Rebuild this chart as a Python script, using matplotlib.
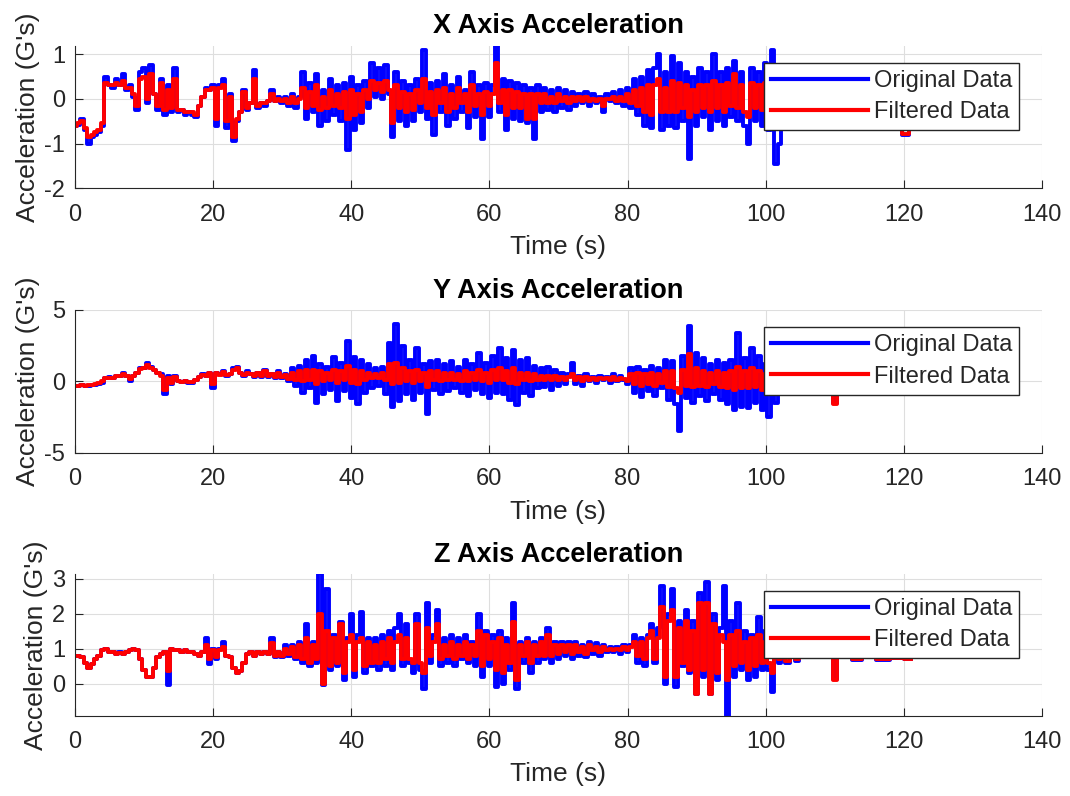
import numpy as np
import matplotlib
matplotlib.use("Agg")
import matplotlib.pyplot as plt

plt.rcParams['font.family'] = ['Liberation Sans', 'DejaVu Sans']
plt.rcParams['axes.unicode_minus'] = False

# sample grid of the dense part (0 .. 102 s, every 0.5 s)
t_main = np.arange(0, 102.5, 0.5)

# ---------------- X axis ----------------
x_orig = [
    -0.6, -0.58, -0.45, -0.7, -1.0, -0.85, -0.8, -0.75, -0.6, 0.5, 0.3, 0.25, 0.45, 0.3, 0.55, 0.2, 0.3, 0.05, -0.25, 0.6,
    0.7, -0.1, 0.75, 0.1, -0.25, 0.45, -0.35, 0.3, -0.3, 0.7, -0.3, -0.25, -0.35, -0.3, -0.35, -0.4, -0.15, 0.05, 0.25, 0.2,
    0.3, -0.6, 0.3, 0.45, -0.65, 0.1, -0.95, -0.5, -0.3, 0.2, -0.25, -0.1, 0.65, -0.2, -0.1, -0.15, -0.05, 0.2, -0.05, 0.05,
    -0.1, 0.05, -0.15, 0.1, -0.2, 0.05, 0.6, -0.45, 0.35, -0.3, 0.55, -0.6, 0.2, -0.5, 0.45, -0.35, 0.3, -0.5, 0.35, -1.15,
    0.5, -0.7, 0.3, -0.55, 0.4, -0.2, 0.8, 0.05, 0.7, 0.0, 0.75, 0.1, -0.85, 0.6, -0.5, 0.4, -0.6, 0.3, -0.5, 0.45,
    -0.3, 1.1, -0.45, 0.35, -0.8, 0.4, -0.3, 0.55, -0.6, 0.3, -0.45, 0.5, -0.3, 0.2, -0.65, 0.6, -0.4, 0.3, -0.9, 0.35,
    -0.4, 0.3, 1.2, -0.3, 0.45, -0.7, 0.4, -0.45, 0.35, -0.5, 0.3, -0.55, 0.25, -0.9, 0.3, -0.3, 0.25, -0.25, 0.2, -0.3,
    0.25, -0.2, 0.2, -0.25, 0.15, -0.15, 0.1, -0.1, 0.15, -0.15, 0.1, -0.1, 0.05, -0.3, 0.1, -0.05, 0.15, -0.1, 0.2, -0.15,
    0.25, -0.2, 0.45, -0.35, 0.5, -0.6, 0.65, -0.65, 0.7, 1.0, -0.7, 0.6, -0.6, 0.95, -0.65, 0.8, -0.5, 0.6, -1.35, 0.5,
    -0.6, 0.7, -0.4, 0.6, -0.7, 1.0, -0.5, 0.6, -0.6, 0.7, -0.4, 0.85, -0.5, 0.6, -0.6, -1.0, 0.7, -0.5, 0.6, -0.6,
    0.8, -0.7, 1.1, -1.45, -1.0,
]
x_filt = [
    -0.6, -0.55, -0.5, -0.65, -0.85, -0.8, -0.75, -0.7, -0.55, 0.35, 0.3, 0.3, 0.35, 0.3, 0.4, 0.25, 0.25, 0.1, -0.15, 0.45,
    0.5, 0.0, 0.55, 0.1, -0.15, 0.35, -0.25, 0.2, -0.2, 0.45, -0.25, -0.25, -0.3, -0.3, -0.3, -0.35, -0.15, 0.05, 0.2, 0.2,
    0.25, -0.45, 0.25, 0.3, -0.5, 0.05, -0.85, -0.45, -0.3, 0.15, -0.2, -0.1, 0.45, -0.15, -0.1, -0.1, -0.05, 0.1, -0.05, 0.0,
    -0.05, 0.0, -0.1, 0.05, -0.1, 0.0, 0.25, -0.2, 0.15, -0.15, 0.3, -0.25, 0.05, -0.2, 0.2, -0.15, 0.1, -0.2, 0.15, -0.45,
    0.2, -0.35, 0.1, -0.3, 0.2, 0.0, 0.4, 0.2, 0.35, 0.15, 0.4, 0.2, -0.55, 0.3, -0.2, 0.15, -0.3, 0.1, -0.25, 0.2,
    -0.1, 0.45, -0.2, 0.15, -0.35, 0.2, -0.1, 0.25, -0.3, 0.1, -0.2, 0.25, -0.1, 0.1, -0.3, 0.3, -0.15, 0.1, -0.35, 0.15,
    -0.15, 0.1, 0.8, -0.1, 0.2, -0.35, 0.2, -0.2, 0.15, -0.2, 0.1, -0.45, 0.1, -0.45, 0.1, -0.1, 0.1, -0.1, 0.05, -0.1,
    0.1, -0.05, 0.05, -0.1, 0.05, -0.05, 0.05, -0.05, 0.05, -0.05, 0.0, -0.05, 0.0, -0.15, 0.0, 0.0, 0.05, -0.05, 0.05, -0.05,
    0.1, -0.1, 0.2, -0.15, 0.25, -0.3, 0.3, -0.35, 0.3, 0.45, -0.3, 0.25, -0.3, 0.4, -0.3, 0.35, -0.2, 0.3, -0.4, 0.2,
    -0.3, 0.3, -0.2, 0.3, -0.3, 0.4, -0.2, 0.3, -0.3, 0.35, -0.15, 0.55, -0.2, 0.3, -0.3, -0.4, 0.35, -0.2, 0.3, -0.25,
    0.35, -0.3, 0.4, -0.5, -0.4,
]
x_tail_t = [102.5, 104, 107, 110, 113, 116, 119, 120.5, 121, 121.5]
x_tail_orig = [0.1, -0.1, 0.05, -0.05, 0.0, 0.05, -0.1, -0.8, -0.1, 0.0]
x_tail_filt = [0.0, -0.05, 0.0, 0.0, 0.0, 0.0, -0.05, -0.78, -0.05, 0.0]

# ---------------- Y axis ----------------
y_orig = [
    -0.3, -0.3, -0.25, -0.3, -0.3, -0.25, -0.25, -0.2, -0.1, 0.2, 0.3, 0.25, 0.4, 0.35, 0.6, 0.35, 0.05, 0.4, 0.6, 0.9,
    0.9, 1.25, 1.0, 0.8, 0.6, 0.5, -0.9, 0.4, -0.2, 0.4, 0.0, -0.05, 0.0, -0.1, -0.1, 0.1, 0.3, 0.5, 0.4, 0.6,
    -0.45, 0.6, 0.5, 0.7, 0.4, 0.5, 0.9, 1.0, 0.6, 0.4, 0.7, 0.5, 0.3, 0.6, 0.3, 0.8, 0.3, 0.5, 0.2, 0.7,
    0.2, 0.5, 0.0, 0.9, -0.3, 1.1, -0.8, 1.5, -0.5, 1.8, -1.5, 1.2, -0.9, 1.0, -0.6, 1.7, -1.4, 1.3, -0.7, 2.8,
    -1.2, 1.7, -1.6, 1.5, -0.8, 1.2, -0.5, 0.9, -0.3, 1.0, -0.9, 2.7, -1.8, 4.0, -1.4, 2.5, -0.9, 1.5, -1.3, 2.3,
    -0.8, 1.2, -2.3, 1.4, -0.6, 1.5, -0.9, 1.2, -0.7, 1.4, -0.5, 1.0, -0.8, 1.5, -1.0, 1.2, -0.6, 2.0, -0.9, 1.3,
    -1.2, 1.8, -0.8, 2.3, -0.9, 1.6, -1.3, 2.2, -1.7, 1.5, -0.8, 1.6, -1.0, 1.1, -0.5, 0.9, -0.4, 1.0, -0.6, 0.8,
    -0.3, 0.6, -0.2, 0.5, 1.3, -0.2, 0.4, -0.3, 0.5, 0.0, 0.3, -0.1, 0.4, 0.1, 0.3, -0.1, 0.5, 0.0, 0.4, 0.1,
    -0.2, 0.9, -0.8, 1.0, -1.1, 0.8, -0.7, 1.1, -1.0, 0.9, -0.5, 1.5, -1.3, 1.4, -1.6, -3.5, 1.8, -1.2, 3.9, -1.5,
    2.0, -1.0, 1.6, -1.4, 1.2, -0.9, 1.5, -1.3, 1.3, -1.6, 1.5, -2.0, 3.4, -1.8, 1.6, -1.9, 2.3, -1.5, 1.8, -2.0,
    1.2, -2.5, 0.8, -1.5, 0.2,
]
y_filt = [
    -0.3, -0.3, -0.28, -0.3, -0.28, -0.25, -0.2, -0.15, 0.0, 0.2, 0.25, 0.25, 0.35, 0.35, 0.5, 0.35, 0.15, 0.4, 0.6, 0.85,
    0.9, 1.15, 0.95, 0.8, 0.6, 0.4, -0.6, 0.2, -0.1, 0.3, 0.0, -0.05, 0.0, -0.05, -0.05, 0.1, 0.3, 0.45, 0.4, 0.55,
    -0.2, 0.55, 0.45, 0.65, 0.45, 0.5, 0.8, 0.95, 0.6, 0.45, 0.6, 0.5, 0.35, 0.55, 0.35, 0.7, 0.35, 0.5, 0.3, 0.6,
    0.3, 0.45, 0.15, 0.6, 0.1, 0.7, 0.0, 0.8, 0.1, 0.8, -0.2, 0.7, 0.0, 0.6, 0.1, 0.8, -0.1, 0.7, 0.1, 1.1,
    -0.1, 0.8, -0.2, 0.7, 0.1, 0.6, 0.2, 0.5, 0.2, 0.6, 0.1, 1.2, -0.2, 1.3, -0.1, 0.9, 0.0, 0.7, -0.1, 0.8,
    0.0, 0.6, -0.4, 0.7, 0.1, 0.7, 0.0, 0.6, 0.1, 0.6, 0.1, 0.5, 0.0, 0.7, 0.0, 0.6, 0.1, 0.8, 0.0, 0.6,
    -0.1, 0.8, 0.1, 0.9, 0.1, 0.7, -0.1, 0.9, -0.2, 0.6, 0.1, 0.6, 0.0, 0.5, 0.1, 0.4, 0.1, 0.4, 0.1, 0.4,
    0.1, 0.3, 0.1, 0.3, 0.5, 0.1, 0.3, 0.0, 0.3, 0.1, 0.2, 0.1, 0.25, 0.15, 0.2, 0.1, 0.3, 0.1, 0.25, 0.15,
    0.05, 0.5, -0.2, 0.6, -0.3, 0.5, -0.2, 0.6, -0.3, 0.5, -0.1, 0.7, -0.4, 0.7, -0.5, -0.8, 0.8, -0.3, 1.9, -0.4,
    0.9, -0.3, 0.7, -0.4, 0.6, -0.2, 0.7, -0.4, 0.6, -0.5, 0.7, -0.6, 1.0, -0.5, 0.7, -0.5, 0.9, -0.4, 0.7, -0.6,
    0.5, -0.7, 0.3, -0.5, 0.1,
]
y_tail_t = [102.5, 105, 108, 109.5, 110, 110.5, 113, 117, 121]
y_tail_orig = [0.2, 0.1, 0.2, 0.0, -1.55, 0.1, 0.2, 0.1, 0.2]
y_tail_filt = [0.1, 0.1, 0.15, 0.0, -1.6, 0.05, 0.15, 0.1, 0.15]

# ---------------- Z axis ----------------
z_orig = [
    0.8, 0.8, 0.75, 0.6, 0.45, 0.55, 0.7, 0.8, 0.95, 1.0, 0.9, 0.9, 0.85, 0.9, 0.85, 0.9, 0.95, 1.0, 0.95, 0.7,
    0.4, 0.2, 0.2, 0.45, 0.75, 0.85, 0.9, -0.05, 1.0, 0.95, 0.95, 0.9, 0.95, 0.9, 0.9, 0.85, 0.8, 0.9, 1.3, 0.55,
    1.0, 0.7, 1.0, 1.2, 0.8, 0.75, 0.45, 0.3, 0.35, 0.6, 0.85, 0.9, 0.8, 0.9, 0.85, 0.9, 0.85, 1.3, 0.75, 0.9,
    0.75, 1.1, 0.8, 1.1, 0.7, 1.2, 0.6, 1.7, 0.5, 1.2, 0.6, 3.15, -0.05, 2.7, 0.4, 1.4, 0.5, 1.75, 0.1, 1.3,
    2.0, 0.2, 1.4, 2.05, 0.3, 1.3, 0.5, 1.3, 0.4, 1.4, 0.5, 1.5, 0.4, 1.6, 2.0, 0.5, 1.7, 0.6, 0.3, 2.0,
    0.4, -0.15, 2.3, 0.6, 1.4, 2.1, 0.5, 1.3, 0.6, 1.4, 0.5, 1.3, 0.7, 1.4, 0.6, 1.2, 0.5, 2.0, 0.2, 1.5,
    0.5, 1.4, -0.1, 1.5, 0.0, 1.3, 0.4, 2.3, -0.15, 1.2, 0.6, 1.3, 0.3, 1.2, 0.6, 1.3, 0.7, 1.6, 0.6, 1.2,
    0.7, 1.2, 0.8, 1.2, 0.7, 1.2, 0.8, 1.1, 0.75, 1.2, 0.85, 1.15, 0.8, 1.1, 0.9, 1.05, 0.9, 1.05, 0.85, 1.1,
    0.9, 1.1, 1.4, 0.6, 1.3, 0.5, 1.4, 1.7, 0.6, 1.6, 2.8, 0.0, 2.0, 2.7, -0.1, 1.8, 0.5, 2.1, 0.3, 1.8,
    -0.3, 2.6, 0.2, 2.9, -0.3, 2.0, 0.1, 1.6, 2.8, -0.95, 1.8, 0.2, 2.3, 0.4, 1.5, 0.1, 1.4, 0.2, 1.9, 0.4,
    1.5, 0.4, -0.25, 1.0, 0.6,
]
z_filt = [
    0.8, 0.78, 0.75, 0.6, 0.45, 0.55, 0.7, 0.8, 0.95, 1.0, 0.9, 0.9, 0.85, 0.88, 0.85, 0.9, 0.95, 1.0, 0.95, 0.7,
    0.4, 0.2, 0.2, 0.45, 0.75, 0.85, 0.9, 0.35, 1.0, 0.95, 0.95, 0.9, 0.95, 0.9, 0.9, 0.85, 0.8, 0.9, 1.1, 0.7,
    0.95, 0.75, 0.95, 1.05, 0.8, 0.75, 0.45, 0.3, 0.35, 0.6, 0.85, 0.9, 0.8, 0.9, 0.85, 0.9, 0.85, 1.15, 0.8, 0.9,
    0.8, 1.0, 0.85, 1.05, 0.75, 1.1, 0.7, 1.3, 0.6, 1.1, 0.7, 2.0, 0.0, 1.5, 0.5, 1.3, 0.6, 1.7, 0.3, 1.2,
    1.4, 0.4, 1.2, 1.3, 0.5, 1.2, 0.6, 1.1, 0.6, 1.2, 0.7, 1.3, 0.6, 1.2, 1.4, 0.7, 1.3, 0.7, 0.6, 1.7,
    0.6, 0.3, 1.6, 0.8, 1.2, 1.7, 0.7, 1.1, 0.8, 1.2, 0.7, 1.1, 0.8, 1.2, 0.7, 1.1, 0.8, 1.5, 0.5, 1.4,
    0.7, 1.2, 0.4, 1.3, 0.3, 1.1, 0.6, 1.75, 0.1, 1.1, 0.8, 1.2, 0.6, 1.1, 0.8, 1.2, 0.8, 1.4, 0.8, 1.1,
    0.85, 1.1, 0.9, 1.1, 0.85, 1.1, 0.9, 1.05, 0.85, 1.1, 0.95, 1.05, 0.9, 1.05, 0.95, 1.0, 0.95, 1.0, 0.95, 1.05,
    0.95, 1.05, 1.2, 0.8, 1.2, 0.7, 1.3, 1.5, 0.7, 1.3, 2.2, 0.2, 1.8, 2.1, 0.2, 1.6, 0.6, 1.8, 0.4, 1.5,
    -0.3, 2.3, 0.4, 2.3, -0.3, 1.7, 0.3, 1.4, 1.2, 0.1, 1.4, 0.5, 1.5, 0.6, 1.2, 0.4, 1.3, 0.5, 1.4, 0.6,
    1.2, 0.6, 0.3, 0.9, 0.7,
]
z_tail_t = [102.5, 103, 104, 104.5, 105, 107, 109.5, 110, 110.5, 112, 113, 115, 117, 119, 121]
z_tail_orig = [0.8, 0.6, 0.85, 0.65, 0.75, 0.75, 0.8, 0.12, 0.8, 0.75, 0.68, 0.75, 0.68, 0.72, 0.7]
z_tail_filt = [0.75, 0.65, 0.8, 0.7, 0.75, 0.75, 0.8, 0.1, 0.8, 0.75, 0.7, 0.75, 0.7, 0.72, 0.7]

titles = ["X Axis Acceleration", "Y Axis Acceleration", "Z Axis Acceleration"]
ylims = [(-2, 1.19), (-5, 5), (-0.91, 3.13)]
yticks = [[-2, -1, 0, 1], [-5, 0, 5], [0, 1, 2, 3]]
series = [
    (x_orig, x_filt, x_tail_t, x_tail_orig, x_tail_filt),
    (y_orig, y_filt, y_tail_t, y_tail_orig, y_tail_filt),
    (z_orig, z_filt, z_tail_t, z_tail_orig, z_tail_filt),
]

fig = plt.figure(figsize=(10.7, 7.96), dpi=100)
# axes boxes in pixels: top / bottom edges
boxes = [(45.7, 188.3), (310.0, 452.5), (574.0, 715.5)]
dark = (0.15, 0.15, 0.15)

for i in range(3):
    top, bot = boxes[i]
    ax = fig.add_axes([75 / 1070, 1 - bot / 796, 967 / 1070, (bot - top) / 796])
    orig, filt, tail_t, tail_o, tail_f = series[i]
    t_all = np.concatenate([t_main, tail_t])
    ax.plot(t_all, np.concatenate([orig, tail_o]), color=(0, 0, 1), lw=2.8,
            drawstyle="steps-mid", label="Original Data")
    ax.plot(t_all, np.concatenate([filt, tail_f]), color=(1, 0, 0), lw=2.8,
            drawstyle="steps-mid", label="Filtered Data")

    ax.set_xlim(0, 140)
    ax.set_ylim(*ylims[i])
    ax.set_xticks(range(0, 141, 20))
    ax.set_yticks(yticks[i])
    ax.grid(True, color=(0.87, 0.87, 0.87), lw=0.8)
    ax.set_axisbelow(True)
    ax.spines["top"].set_visible(False)
    ax.spines["right"].set_visible(False)
    for s in ("left", "bottom"):
        ax.spines[s].set_color(dark)
        ax.spines[s].set_linewidth(0.8)
    ax.tick_params(direction="in", length=6, width=0.8, color=dark, labelcolor=dark,
                   labelsize=17)
    ax.tick_params(axis="x", pad=11)
    ax.tick_params(axis="y", pad=7)

    ax.set_title(titles[i], fontsize=19.5, fontweight="bold", pad=9)
    ax.set_xlabel("Time (s)", fontsize=19, color=dark, labelpad=7)
    ax.set_ylabel("Acceleration (G's)", fontsize=19, color=dark, labelpad=3)

    leg = ax.legend(loc="upper right", bbox_to_anchor=(944 / 967, 1 - 17 / 142.6),
                    borderaxespad=0, fontsize=17, handlelength=4.1, handletextpad=0.25,
                    labelspacing=0.4, borderpad=0.3, fancybox=False, framealpha=1,
                    edgecolor=dark)
    leg.get_frame().set_linewidth(1.0)
    for ln in leg.get_lines():
        ln.set_linewidth(3.0)
        ln.set_drawstyle("default")
    for txt in leg.get_texts():
        txt.set_color(dark)

fig.savefig("out.png", dpi=100)
